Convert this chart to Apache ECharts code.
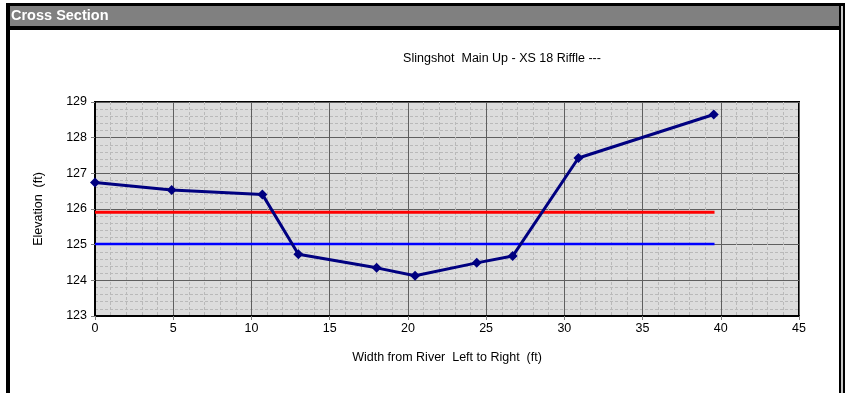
<!DOCTYPE html>
<html>
<head>
<meta charset="utf-8">
<style>
  html, body { margin: 0; padding: 0; background: #ffffff; }
  #chart { width: 846px; height: 393px; }
</style>
<script src="https://cdn.jsdelivr.net/npm/echarts@6/dist/echarts.min.js"></script>
</head>
<body>
<div id="chart"></div>
<script>
// Surveyed ground profile across the channel (station ft, elevation ft)
const stations   = [0, 4.9, 10.7, 13.0, 18.0, 20.46, 24.4, 26.7, 30.9, 39.55];
const elevations = [126.74, 126.53, 126.41, 124.73, 124.35, 124.13, 124.49, 124.68, 127.43, 128.65];

// Reference water levels drawn across the section
const levelExtent    = [0, 39.6];
const bankfullLevel  = 125.91;   // red
const waterLevel     = 125.02;   // blue

const xTicks = { min: 0, max: 45, step: 5 };
const yTicks = { min: 123, max: 129, step: 1 };

const profile = stations.map((x, i) => [x, elevations[i]]);
const flatLine = (y) => levelExtent.map(x => [x, y]);

const chart = echarts.init(document.getElementById('chart'), null, { renderer: 'canvas' });

const font = 'Liberation Sans, Arial, sans-serif';

chart.setOption({
  animation: false,
  backgroundColor: '#ffffff',
  textStyle: { fontFamily: font },
  title: {
    text: 'Slingshot  Main Up - XS 18 Riffle ---',
    left: 497, top: 47, textAlign: 'center',
    textStyle: { fontFamily: font, fontSize: 12.5, fontWeight: 'normal', color: '#000' }
  },
  grid: {
    left: 95, top: 102, right: 47, bottom: 77,
    show: true, backgroundColor: '#dcdcdc', borderColor: '#000', borderWidth: 2
  },
  xAxis: {
    type: 'value', min: xTicks.min, max: xTicks.max, interval: xTicks.step,
    name: 'Width from River  Left to Right  (ft)',
    nameLocation: 'middle', nameGap: 35,
    nameTextStyle: { fontFamily: font, fontSize: 12.5, color: '#000' },
    axisLine: { show: true, lineStyle: { color: '#000', width: 2 } },
    axisTick: { show: true, length: 4, lineStyle: { color: '#808080' } },
    axisLabel: { fontFamily: font, fontSize: 12.5, color: '#000', margin: 6 },
    splitLine: { show: true, lineStyle: { color: '#5f5f5f', width: 1 } },
    minorTick: { show: false, splitNumber: 5 },
    minorSplitLine: { show: true, lineStyle: { color: '#b9b9b9', width: 1, type: [3, 2] } }
  },
  yAxis: {
    type: 'value', min: yTicks.min, max: yTicks.max, interval: yTicks.step,
    name: 'Elevation  (ft)',
    nameLocation: 'middle', nameGap: 50, nameRotate: 90,
    nameTextStyle: { fontFamily: font, fontSize: 12.5, color: '#000' },
    axisLine: { show: true, lineStyle: { color: '#000', width: 2 } },
    axisTick: { show: true, length: 4, lineStyle: { color: '#808080' } },
    axisLabel: { fontFamily: font, fontSize: 12.5, color: '#000', margin: 8 },
    splitLine: { show: true, lineStyle: { color: '#5f5f5f', width: 1 } },
    minorTick: { show: false, splitNumber: 5 },
    minorSplitLine: { show: true, lineStyle: { color: '#b9b9b9', width: 1, type: [3, 2] } }
  },
  series: [
    {
      type: 'line', data: flatLine(bankfullLevel), symbol: 'none',
      lineStyle: { color: '#ff0000', width: 3 }, z: 3
    },
    {
      type: 'line', data: flatLine(waterLevel), symbol: 'none',
      lineStyle: { color: '#0000ff', width: 2.5 }, z: 3
    },
    {
      type: 'line', data: profile, symbol: 'diamond', symbolSize: 10,
      itemStyle: { color: '#000080' },
      lineStyle: { color: '#000080', width: 3 }, z: 4
    }
  ],
  graphic: [
    // outer frame and header strip
    { type: 'rect', shape: { x: 6, y: 3, width: 839, height: 3 }, style: { fill: '#000' } },
    { type: 'rect', shape: { x: 6, y: 3, width: 4, height: 390 }, style: { fill: '#000' } },
    { type: 'rect', shape: { x: 10, y: 6, width: 829, height: 20 }, style: { fill: '#808080' } },
    { type: 'rect', shape: { x: 6, y: 26, width: 835, height: 4 }, style: { fill: '#000' } },
    { type: 'rect', shape: { x: 839, y: 6, width: 2, height: 387 }, style: { fill: '#000' } },
    { type: 'rect', shape: { x: 841, y: 6, width: 2, height: 387 }, style: { fill: '#c8c8c8' } },
    { type: 'rect', shape: { x: 843, y: 3, width: 2, height: 390 }, style: { fill: '#000' } },
    {
      type: 'text', left: 11, top: 8,
      style: { text: 'Cross Section', fill: '#ffffff', font: 'bold 14.5px ' + font }
    }
  ]
});
</script>
</body>
</html>
